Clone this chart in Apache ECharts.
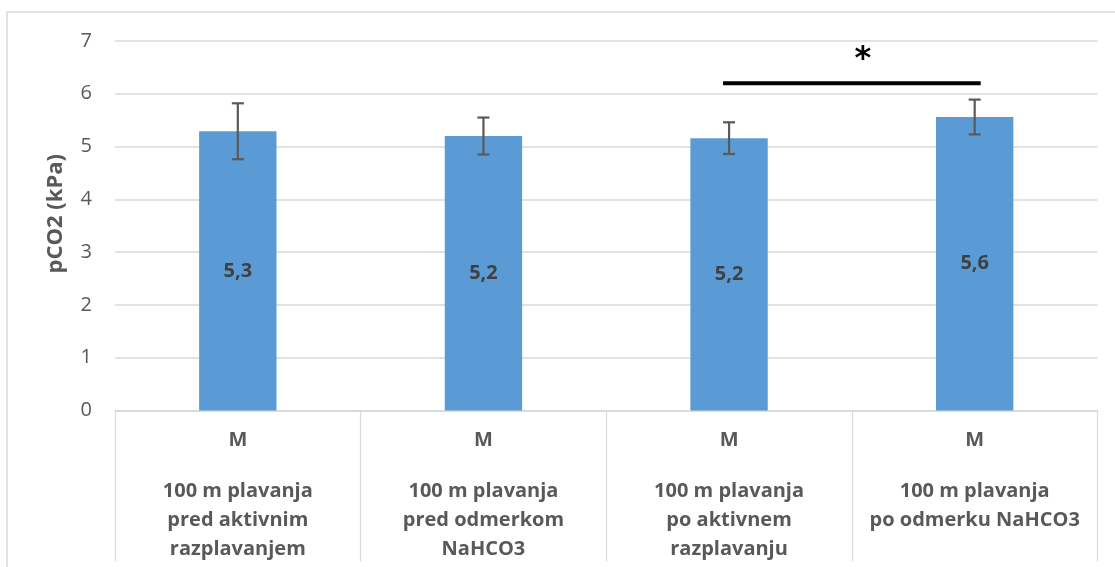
<!DOCTYPE html>
<html>
<head>
<meta charset="utf-8">
<script src="https://cdn.jsdelivr.net/npm/echarts@6/dist/echarts.min.js"></script>
<style>html,body{margin:0;padding:0;background:#fff;}#c{width:1115px;height:567px;}</style>
</head>
<body>
<div id="c"></div>
<script>
var groupLabels = ['M', 'M', 'M', 'M'];
var categories = [
  '100 m plavanja\npred aktivnim\nrazplavanjem',
  '100 m plavanja\npred odmerkom\nNaHCO3',
  '100 m plavanja\npo aktivnem\nrazplavanju',
  '100 m plavanja\npo odmerku NaHCO3'
];
var values = [5.29, 5.20, 5.16, 5.56];
var errors = [0.53, 0.35, 0.30, 0.33];
var sigFrom = 2, sigTo = 3, sigLevel = 6.2, sigStarLevel = 6.78, sigText = '*';
var yTicks = [0, 1, 2, 3, 4, 5, 6, 7];

var FONT = 'Open Sans';
var chart = echarts.init(document.getElementById('c'));
var errData = values.map(function (v, i) { return [i, v - errors[i], v + errors[i]]; });

chart.setOption({
  animation: false,
  backgroundColor: '#fff',
  graphic: [{
    type: 'rect', silent: true, z: -10,
    shape: { x: 7, y: 12, width: 1300, height: 700 },
    style: { fill: 'none', stroke: '#d9d9d9', lineWidth: 1.5 }
  }],
  grid: { left: 115, right: 17.5, top: 41, bottom: 156.5 },
  xAxis: [{
    type: 'category',
    data: groupLabels,
    axisLine: { lineStyle: { color: '#d9d9d9', width: 1.5 } },
    axisTick: { show: true, length: 151, lineStyle: { color: '#d9d9d9', width: 1.2 } },
    axisLabel: { margin: 20, fontFamily: FONT, fontWeight: 'bold', fontSize: 20, color: '#595959' }
  }, {
    type: 'category',
    position: 'bottom',
    data: categories,
    axisLine: { show: false },
    axisTick: { show: false },
    axisLabel: { margin: 66, fontFamily: FONT, fontWeight: 'bold', fontSize: 20, lineHeight: 29, color: '#595959', interval: 0 }
  }],
  yAxis: {
    type: 'value',
    min: yTicks[0], max: yTicks[yTicks.length - 1], interval: 1,
    name: 'pCO2 (kPa)',
    nameLocation: 'middle',
    nameGap: 48,
    nameTextStyle: { fontFamily: FONT, fontWeight: 'bold', fontSize: 22, color: '#595959', padding: [0, 0, 0, 24] },
    axisLine: { show: false },
    axisTick: { show: false },
    axisLabel: { margin: 23, fontFamily: FONT, fontSize: 20, color: '#595959' },
    splitLine: { lineStyle: { color: '#d9d9d9', width: 1.5 } }
  },
  series: [{
    type: 'bar',
    xAxisIndex: 0,
    data: values,
    barWidth: '31.5%',
    itemStyle: { color: '#5b9bd5' },
    label: {
      show: true, position: 'inside',
      fontFamily: FONT, fontWeight: 'bold', fontSize: 20, color: '#404040',
      formatter: function (p) { return p.value.toFixed(1).replace('.', ','); }
    }
  }, {
    type: 'custom',
    xAxisIndex: 0,
    data: errData,
    z: 5,
    renderItem: function (params, api) {
      var x = api.value(0);
      var lo = api.coord([x, api.value(1)]);
      var hi = api.coord([x, api.value(2)]);
      var cap = 6;
      var st = { stroke: '#595959', lineWidth: 2.2 };
      return {
        type: 'group',
        children: [
          { type: 'line', shape: { x1: hi[0], y1: hi[1], x2: lo[0], y2: lo[1] }, style: st },
          { type: 'line', shape: { x1: hi[0] - cap, y1: hi[1], x2: hi[0] + cap, y2: hi[1] }, style: st },
          { type: 'line', shape: { x1: lo[0] - cap, y1: lo[1], x2: lo[0] + cap, y2: lo[1] }, style: st }
        ]
      };
    }
  }, {
    type: 'custom',
    xAxisIndex: 0,
    data: [[sigFrom, sigTo, sigLevel, sigStarLevel]],
    z: 6,
    renderItem: function (params, api) {
      var a = api.coord([api.value(0), api.value(2)]);
      var b = api.coord([api.value(1), api.value(2)]);
      var s = api.coord([api.value(0), api.value(3)]);
      var ext = 6;
      return {
        type: 'group',
        children: [
          { type: 'line', shape: { x1: a[0] - ext, y1: a[1], x2: b[0] + ext, y2: b[1] }, style: { stroke: '#000', lineWidth: 3.8 } },
          { type: 'text', style: { text: sigText, x: (a[0] + b[0]) / 2 + 11, y: s[1] + 7, align: 'center', verticalAlign: 'middle', font: 'bold 32px "DejaVu Sans"', fill: '#000' } }
        ]
      };
    }
  }]
});
</script>
</body>
</html>
